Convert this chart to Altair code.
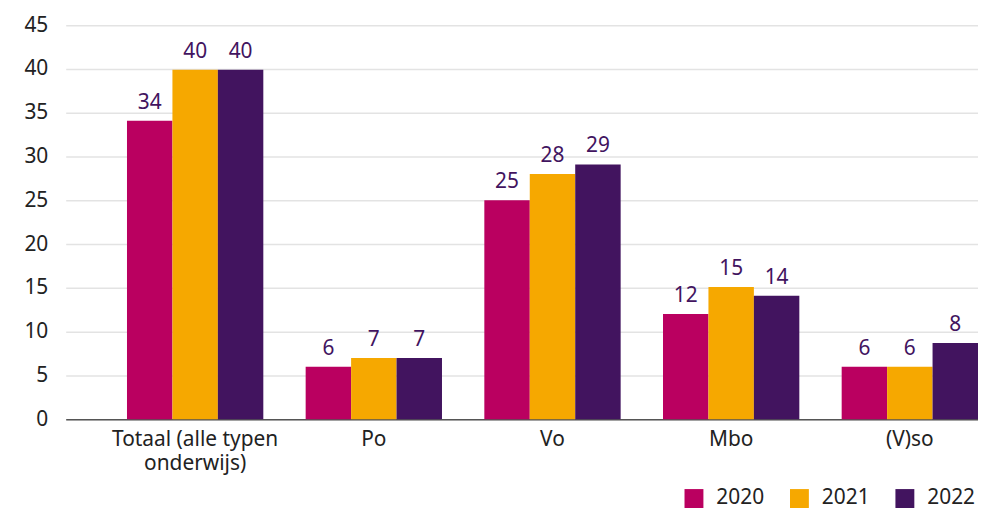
import altair as alt
import pandas as pd

categories = ["Totaal (alle typen onderwijs)", "Po", "Vo", "Mbo", "(V)so"]
years = ["2020", "2021", "2022"]
values_2020 = [34.1, 6.0, 25.0, 12.0, 6.0]
values_2021 = [39.9, 7.0, 28.0, 15.1, 6.0]
values_2022 = [39.9, 7.0, 29.1, 14.1, 8.7]
labels_2020 = ["34", "6", "25", "12", "6"]
labels_2021 = ["40", "7", "28", "15", "6"]
labels_2022 = ["40", "7", "29", "14", "8"]
colors = ["#ba0060", "#f6a800", "#42145f"]

rows = []
for year, vals, labs in zip(years, [values_2020, values_2021, values_2022],
                            [labels_2020, labels_2021, labels_2022]):
    for c, v, l in zip(categories, vals, labs):
        rows.append({"cat": c, "year": year, "value": v, "label": l})
df = pd.DataFrame(rows)

FONT = "Noto Sans"
FS = 21

x = alt.X(
    "cat:N",
    sort=categories,
    title=None,
    scale=alt.Scale(paddingInner=0.237, paddingOuter=0.1715, align=1),
    axis=alt.Axis(
        labelAngle=0,
        labelFontSize=FS,
        labelFont=FONT,
        labelColor="#222222",
        labelPadding=9,
        labelLineHeight=25,
        ticks=False,
        domainColor="#555555",
        domainWidth=1.5,
        labelExpr="datum.label == 'Totaal (alle typen onderwijs)' ? ['Totaal (alle typen', 'onderwijs)'] : datum.label",
    ),
)
xoff = alt.XOffset("year:N", sort=years, scale=alt.Scale(paddingInner=0, paddingOuter=0))
y = alt.Y(
    "value:Q",
    title=None,
    scale=alt.Scale(domain=[0, 45]),
    axis=alt.Axis(
        values=list(range(0, 46, 5)),
        labelFontSize=FS,
        labelFont=FONT,
        labelColor="#222222",
        labelPadding=18,
        ticks=False,
        domain=False,
        gridColor="#e3e3e3",
        gridWidth=1.5,
    ),
)
color = alt.Color(
    "year:N",
    sort=years,
    scale=alt.Scale(domain=years, range=colors),
    legend=alt.Legend(
        title=None,
        orient="none",
        direction="horizontal",
        legendX=621,
        legendY=465,
        symbolType="square",
        symbolSize=361,
        symbolStrokeWidth=0,
        symbolOpacity=1,
        labelFontSize=FS,
        labelFont=FONT,
        labelColor="#222222",
        labelOffset=12,
        columnPadding=24,
        padding=0,
    ),
)

bars = alt.Chart(df).mark_bar(opacity=1).encode(x=x, xOffset=xoff, y=y, color=color)
text = alt.Chart(df).mark_text(
    baseline="alphabetic", dy=-12, fontSize=FS, font=FONT, color="#42145f"
).encode(x=x, xOffset=xoff, y=alt.Y("value:Q"), text="label:N")

chart = (
    alt.layer(bars, text)
    .properties(
        width=917,
        height=396,
        autosize=alt.AutoSizeParams(type="none"),
        padding={"left": 58, "top": 16, "right": 0, "bottom": 93},
    )
    .configure_view(stroke=None)
)

chart.save("out.html", embed_options={"renderer": "svg", "actions": False})
